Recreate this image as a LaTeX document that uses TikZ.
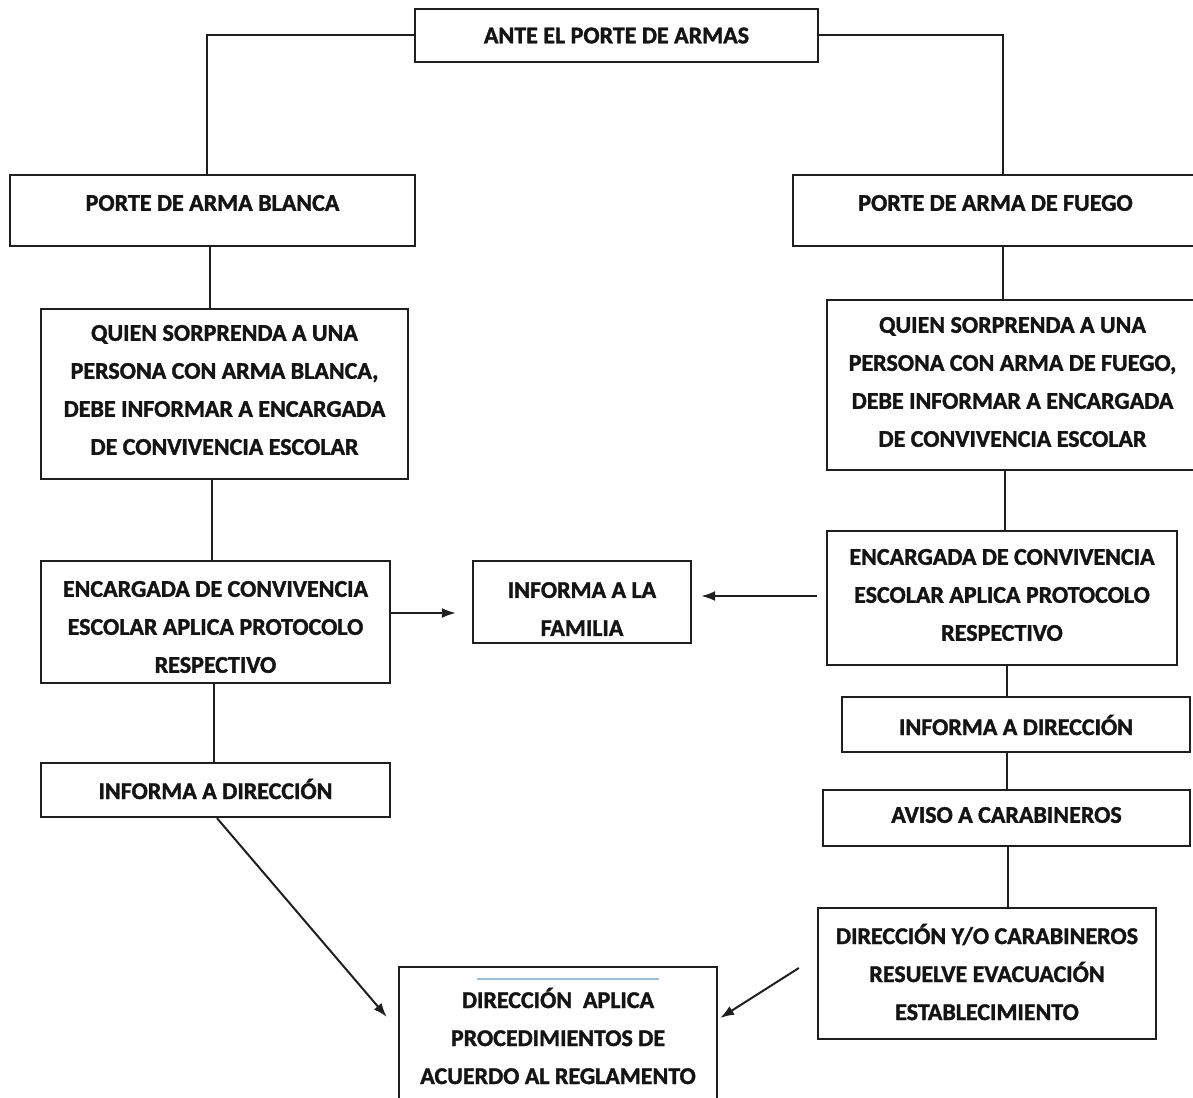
\documentclass[tikz,border=0pt]{standalone}
\usepackage{fontspec}
\setmainfont{Carlito}[BoldFeatures={FakeBold=1.5}]
\usetikzlibrary{arrows.meta}
\definecolor{lblue}{RGB}{150,192,228}
\begin{document}
\begin{tikzpicture}[x=1pt,y=-1pt,
  box/.style={draw=black!88, line width=2.3pt, fill=white, inner sep=0pt},
  txt/.style={font=\fontsize{24}{38}\selectfont\bfseries, align=center, text=black!92, inner sep=0pt},
  conn/.style={draw=black!88, line width=2pt},
  arr/.style={conn, -{Latex[length=14pt,width=10pt]}}]
\useasboundingbox (0,0) rectangle (1193,1097);

% boxes
\node[box, minimum width=403pt, minimum height=53pt] (top) at (616.5,35.5) {};
\node[txt] (top-t) at (top) {ANTE EL PORTE DE ARMAS};

\node[box, minimum width=405pt, minimum height=71pt] (blanca) at (212.5,210.5) {};
\node[txt] (blanca-t) at (212.5,203) {PORTE DE ARMA BLANCA};

\node[box, minimum width=405pt, minimum height=71pt] (fuego) at (995.5,210.5) {};
\node[txt] (fuego-t) at (995.5,203) {PORTE DE ARMA DE FUEGO};

\node[box, minimum width=367pt, minimum height=170pt] (quienB) at (224.5,394) {};
\node[txt] (quienB-t) at (224.5,390) {QUIEN SORPRENDA A UNA\\PERSONA CON ARMA BLANCA,\\DEBE INFORMAR A ENCARGADA\\DE CONVIVENCIA ESCOLAR};

\node[box, minimum width=371pt, minimum height=170pt] (quienF) at (1012.5,385) {};
\node[txt] (quienF-t) at (1012.5,382) {QUIEN SORPRENDA A UNA\\PERSONA CON ARMA DE FUEGO,\\DEBE INFORMAR A ENCARGADA\\DE CONVIVENCIA ESCOLAR};

\node[box, minimum width=349pt, minimum height=122pt] (encB) at (215.5,622) {};
\node[txt] (encB-t) at (215.5,627) {ENCARGADA DE CONVIVENCIA\\ESCOLAR APLICA PROTOCOLO\\RESPECTIVO};

\node[box, minimum width=218pt, minimum height=82pt] (fam) at (582,602) {};
\node[txt] (fam-t) at (582,609) {INFORMA A LA\\FAMILIA};

\node[box, minimum width=350pt, minimum height=134pt] (encF) at (1002,598) {};
\node[txt] (encF-t) at (1002,595) {ENCARGADA DE CONVIVENCIA\\ESCOLAR APLICA PROTOCOLO\\RESPECTIVO};

\node[box, minimum width=349pt, minimum height=54pt] (dirB) at (215.5,790) {};
\node[txt] (dirB-t) at (215.5,789) {INFORMA A DIRECCIÓN};

\node[box, minimum width=348pt, minimum height=55pt] (dirF) at (1016,724.5) {};
\node[txt] (dirF-t) at (1016,725) {INFORMA A DIRECCIÓN};

\node[box, minimum width=367pt, minimum height=56pt] (avi) at (1006.5,818) {};
\node[txt] (avi-t) at (1006.5,815) {AVISO A CARABINEROS};

\node[box, minimum width=338pt, minimum height=131pt] (dyo) at (987,973.5) {};
\node[txt] (dyo-t) at (987,972) {DIRECCIÓN Y/O CARABINEROS\\RESUELVE EVACUACIÓN\\ESTABLECIMIENTO};

\node[box, minimum width=318pt, minimum height=138pt] (apl) at (558,1036) {};
\node[txt] (apl-t) at (558,1036) {DIRECCIÓN\ \ APLICA\\PROCEDIMIENTOS DE\\ACUERDO AL REGLAMENTO};
\draw[lblue, line width=1.6pt] ([shift={(-81pt,57pt)}]apl.center) -- ([shift={(101pt,57pt)}]apl.center);

% connectors
\draw[conn] (top.west) -| ([xshift=-5.5pt]blanca.north);
\draw[conn] (top.east) -| ([xshift=7.5pt]fuego.north);
\draw[conn] ([xshift=-2.5pt]blanca.south) -- ([xshift=-2.5pt]blanca.south |- quienB.north);
\draw[conn] ([xshift=-12.5pt]quienB.south) -- ([xshift=-12.5pt]quienB.south |- encB.north);
\draw[conn] ([xshift=-1.5pt]encB.south) -- ([xshift=-1.5pt]encB.south |- dirB.north);
\draw[arr] ([xshift=1.5pt]dirB.south) -- ([shift={(-11pt,19pt)}]apl.west);

\draw[conn] ([xshift=7.5pt]fuego.south) -- ([xshift=7.5pt]fuego.south |- quienF.north);
\draw[conn] ([xshift=-7.5pt]quienF.south) -- ([xshift=-7.5pt]quienF.south |- encF.north);
\draw[conn] ([xshift=5pt]encF.south) -- ([xshift=5pt]encF.south |- dirF.north);
\draw[conn] ([xshift=-9pt]dirF.south) -- ([xshift=-9pt]dirF.south |- avi.north);
\draw[conn] ([xshift=1.5pt]avi.south) -- ([xshift=1.5pt]avi.south |- dyo.north);
\draw[arr] ([shift={(-18pt,5.5pt)}]dyo.west) -- ([shift={(2pt,18pt)}]apl.east);

\draw[arr] ([yshift=9pt]encB.east) -- ([shift={(-16pt,-11pt)}]fam.west);
\draw[arr] ([shift={(-9pt,2pt)}]encF.west) -- ([shift={(9pt,6pt)}]fam.east);
\end{tikzpicture}
\end{document}
